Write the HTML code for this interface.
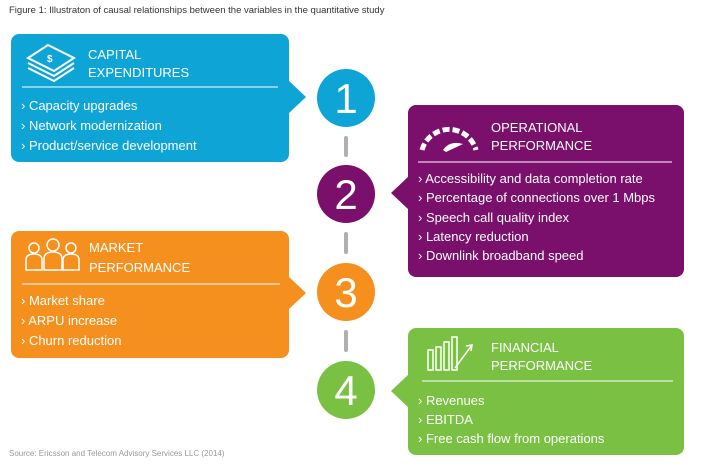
<!DOCTYPE html>
<html><head><meta charset="utf-8"><style>
body{margin:0;background:#fff;}
svg text{font-family:"Liberation Sans",sans-serif;}
</style></head><body>
<svg width="703" height="469" viewBox="0 0 703 469" xmlns="http://www.w3.org/2000/svg">
<text x="9" y="13" font-size="9.5" fill="#333">Figure 1: Illustraton of causal relationships between the variables in the quantitative study</text>
<!-- connectors -->
<g stroke="#b0b0b0" stroke-width="4" stroke-linecap="round">
<line x1="346" y1="138" x2="346" y2="155"/>
<line x1="346" y1="234" x2="346" y2="252"/>
<line x1="346" y1="332" x2="346" y2="350"/>
</g>
<!-- box1 -->
<rect x="11" y="34" width="278" height="128" rx="8" fill="#0ea5d6"/>
<polygon points="288,80 306,97 288,114" fill="#0ea5d6"/>
<line x1="22" y1="87" x2="278" y2="87" stroke="#fff" stroke-width="1"/>
<g fill="none" stroke="#fff" stroke-width="2">
<path d="M28,58 L48,45 L74,58 L54,71 Z"/>
<path d="M28,63 L54,76 L74,63"/>
<path d="M28,68 L54,81 L74,68"/>
</g>
<text x="47" y="62" font-size="10" fill="#fff" font-weight="bold">$</text>
<text x="88" y="59" font-size="13" fill="#fff">CAPITAL</text>
<text x="88" y="77" font-size="13" fill="#fff">EXPENDITURES</text>
<g font-size="13" fill="#fff">
<text x="21" y="110">› Capacity upgrades</text>
<text x="21" y="130">› Network modernization</text>
<text x="21" y="150">› Product/service development</text>
</g>
<circle cx="346" cy="98" r="29" fill="#0ea5d6"/>
<text x="346" y="113" font-size="42" fill="#fff" text-anchor="middle">1</text>
<!-- box2 -->
<rect x="408" y="105" width="276" height="172" rx="8" fill="#7b0f6c"/>
<polygon points="409,176 391,193 409,210" fill="#7b0f6c"/>
<line x1="418" y1="162" x2="672" y2="162" stroke="#fff" stroke-width="1"/>
<path d="M422,150 A28,28 0 0 1 476,150" fill="none" stroke="#fff" stroke-width="5" stroke-dasharray="7,3"/>
<path d="M443,150 Q450,140 463,144 L446,152 Z" fill="#fff"/>
<text x="491" y="132" font-size="13" fill="#fff">OPERATIONAL</text>
<text x="491" y="150" font-size="13" fill="#fff">PERFORMANCE</text>
<g font-size="13" fill="#fff">
<text x="418" y="183">› Accessibility and data completion rate</text>
<text x="418" y="202">› Percentage of connections over 1 Mbps</text>
<text x="418" y="222">› Speech call quality index</text>
<text x="418" y="241">› Latency reduction</text>
<text x="418" y="260">› Downlink broadband speed</text>
</g>
<circle cx="346" cy="194" r="29" fill="#7b0f6c"/>
<text x="346" y="209" font-size="42" fill="#fff" text-anchor="middle">2</text>
<!-- box3 -->
<rect x="11" y="231" width="278" height="127" rx="8" fill="#f5901e"/>
<polygon points="288,276 306,293 288,310" fill="#f5901e"/>
<line x1="22" y1="284" x2="280" y2="284" stroke="#fff" stroke-width="1"/>
<g fill="none" stroke="#fff" stroke-width="1.5">
<circle cx="34" cy="248" r="5"/><circle cx="53" cy="245" r="6"/><circle cx="71" cy="248" r="5"/>
<path d="M26,270 V260 Q26,254 34,254 Q42,254 42,260 V270 Z"/>
<path d="M44,270 V259 Q44,252 53,252 Q62,252 62,259 V270 Z"/>
<path d="M63,270 V260 Q63,254 71,254 Q79,254 79,260 V270 Z"/>
</g>
<text x="89" y="252" font-size="13" fill="#fff">MARKET</text>
<text x="89" y="272" font-size="13" fill="#fff">PERFORMANCE</text>
<g font-size="13" fill="#fff">
<text x="21" y="305">› Market share</text>
<text x="21" y="325">› ARPU increase</text>
<text x="21" y="345">› Churn reduction</text>
</g>
<circle cx="346" cy="292" r="29" fill="#f5901e"/>
<text x="346" y="307" font-size="42" fill="#fff" text-anchor="middle">3</text>
<!-- box4 -->
<rect x="408" y="328" width="276" height="127" rx="8" fill="#7ac143"/>
<polygon points="409,374 391,391 409,408" fill="#7ac143"/>
<line x1="422" y1="381" x2="673" y2="381" stroke="#fff" stroke-width="1"/>
<g fill="none" stroke="#fff" stroke-width="1.5">
<rect x="428" y="350" width="5" height="20"/><rect x="436" y="347" width="5" height="23"/>
<rect x="444" y="342" width="5" height="28"/><rect x="452" y="337" width="5" height="33"/>
<path d="M455,368 L472,345 M466,346 L472,345 L471,351"/>
</g>
<text x="491" y="352" font-size="13" fill="#fff">FINANCIAL</text>
<text x="491" y="370" font-size="13" fill="#fff">PERFORMANCE</text>
<g font-size="13" fill="#fff">
<text x="418" y="405">› Revenues</text>
<text x="418" y="424">› EBITDA</text>
<text x="418" y="443">› Free cash flow from operations</text>
</g>
<circle cx="346" cy="390" r="29" fill="#7ac143"/>
<text x="346" y="405" font-size="42" fill="#fff" text-anchor="middle">4</text>
<text x="9" y="456" font-size="8" fill="#999">Source: Ericsson and Telecom Advisory Services LLC (2014)</text>
</svg>
</body></html>
